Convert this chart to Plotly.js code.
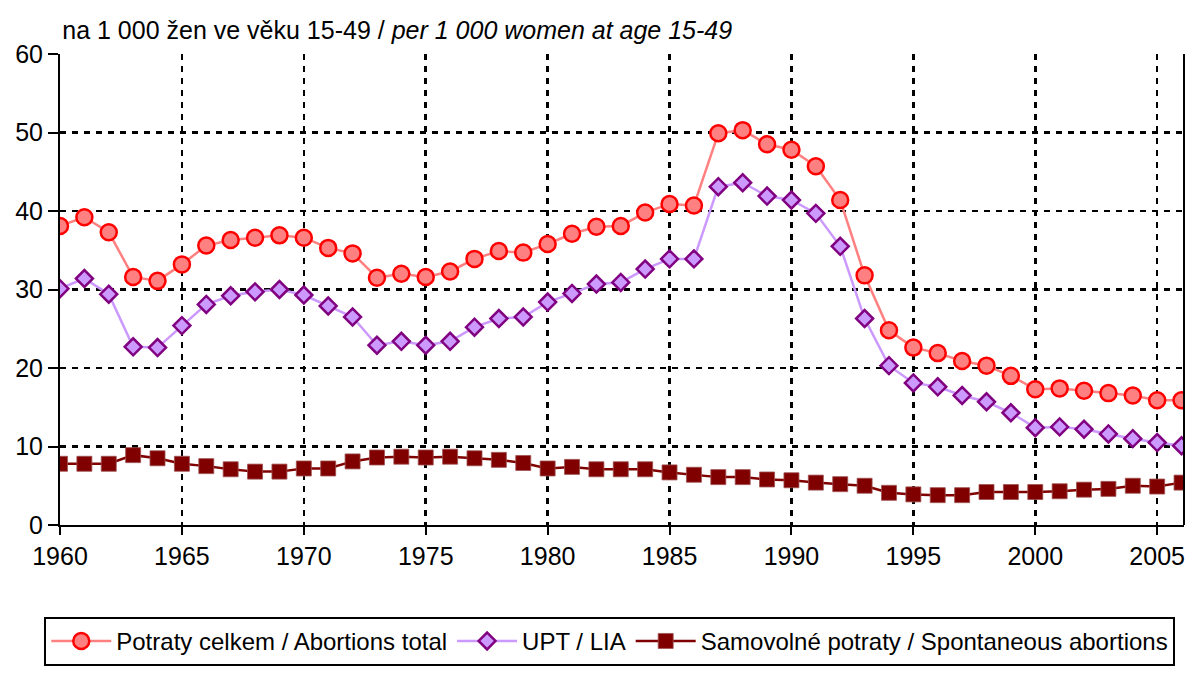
<!DOCTYPE html>
<html>
<head>
<meta charset="utf-8">
<script src="https://cdn.plot.ly/plotly-3.0.1.min.js"></script>
<style>html,body{margin:0;padding:0;background:#fff}#chart{width:1188px;height:677px}</style>
</head>
<body>
<div id="chart"></div>
<script>
const years = [1960,1961,1962,1963,1964,1965,1966,1967,1968,1969,1970,1971,1972,1973,1974,1975,1976,1977,1978,1979,1980,1981,1982,1983,1984,1985,1986,1987,1988,1989,1990,1991,1992,1993,1994,1995,1996,1997,1998,1999,2000,2001,2002,2003,2004,2005,2006];
const abortionsTotal = [38.1,39.2,37.3,31.6,31.1,33.2,35.6,36.3,36.6,36.9,36.6,35.3,34.6,31.5,32.0,31.6,32.3,33.9,34.9,34.7,35.8,37.1,38.0,38.1,39.8,40.9,40.7,49.9,50.3,48.5,47.8,45.7,41.4,31.8,24.8,22.6,21.9,20.9,20.3,19.0,17.3,17.4,17.1,16.8,16.5,15.9,15.9];
const upt = [30.1,31.4,29.4,22.7,22.6,25.4,28.1,29.2,29.7,30.0,29.3,27.9,26.5,22.9,23.4,22.9,23.4,25.2,26.3,26.5,28.4,29.5,30.7,30.9,32.6,33.9,33.9,43.1,43.6,41.9,41.4,39.7,35.5,26.3,20.3,18.1,17.6,16.5,15.7,14.3,12.4,12.5,12.2,11.6,11.0,10.5,10.1];
const spontaneous = [7.8,7.8,7.8,8.9,8.5,7.8,7.5,7.1,6.8,6.8,7.2,7.2,8.1,8.6,8.7,8.6,8.7,8.5,8.3,7.9,7.2,7.4,7.1,7.1,7.1,6.7,6.4,6.1,6.1,5.8,5.7,5.4,5.2,5.0,4.1,3.9,3.8,3.8,4.2,4.2,4.2,4.3,4.5,4.6,5.0,4.9,5.4];
const seriesNames = ['Potraty celkem / Abortions total','UPT / LIA','Samovolné potraty / Spontaneous abortions'];
const xTicks = [1960,1965,1970,1975,1980,1985,1990,1995,2000,2005];
const yTicks = [0,10,20,30,40,50,60];
const titleText = 'na 1 000 žen ve věku 15-49 / <i>per 1 000 women at age 15-49</i>';

const FONT = '"Liberation Sans Narrow", "Arial Narrow", "Liberation Sans", sans-serif';

const traces = [
  {x: years, y: abortionsTotal, name: seriesNames[0], type: 'scatter', mode: 'lines+markers',
   line: {color: '#FF8080', width: 2.5},
   marker: {symbol: 'circle', size: 16, color: '#FF8080', line: {color: '#FF0000', width: 2.5}}},
  {x: years, y: upt, name: seriesNames[1], type: 'scatter', mode: 'lines+markers',
   line: {color: '#CC99FF', width: 2.5},
   marker: {symbol: 'diamond', size: 13, color: '#CC99FF', line: {color: '#800080', width: 2.5}}},
  {x: years, y: spontaneous, name: seriesNames[2], type: 'scatter', mode: 'lines+markers',
   line: {color: '#800000', width: 2.5},
   marker: {symbol: 'square', size: 15, color: '#800000', line: {color: '#A05050', width: 0.8}}}
];

const layout = {
  width: 1188, height: 677,
  margin: {l: 60, r: 4, t: 54, b: 152},
  paper_bgcolor: '#fff', plot_bgcolor: '#fff',
  font: {family: FONT, size: 24, color: '#000'},
  title: {text: titleText, font: {family: FONT, size: 25, color: '#000'},
          xref: 'paper', x: 0.002, xanchor: 'left', yref: 'container', y: 0.955, yanchor: 'middle'},
  showlegend: true,
  legend: {orientation: 'h', xref: 'paper', yref: 'paper', x: -0.014, xanchor: 'left', y: -0.195, yanchor: 'top',
           bordercolor: '#000', borderwidth: 2, bgcolor: '#fff', itemwidth: 60, tracegroupgap: 0,
           font: {family: FONT, size: 24, color: '#000'}},
  xaxis: {range: [1960, 2006.1], tickmode: 'array', tickvals: xTicks, ticktext: xTicks.map(String),
          showline: true, linecolor: '#000', linewidth: 2, ticks: 'outside', ticklen: 8, tickwidth: 2, tickcolor: '#000',
          showgrid: true, gridcolor: '#000', gridwidth: 2.5, griddash: '6px,6px', zeroline: false,
          tickfont: {family: FONT, size: 25, color: '#000'}},
  yaxis: {range: [0, 60], tickmode: 'array', tickvals: yTicks, ticktext: yTicks.map(String),
          showline: true, linecolor: '#000', linewidth: 2, ticks: 'outside', ticklen: 10, tickwidth: 2, tickcolor: '#000',
          showgrid: true, gridcolor: '#000', gridwidth: 2.5, griddash: '6px,6px', zeroline: false,
          tickfont: {family: FONT, size: 25, color: '#000'}},
  shapes: [{type: 'line', xref: 'paper', yref: 'paper', x0: 1, x1: 1, y0: 0, y1: 1, line: {color: '#000', width: 2}}]
};

Plotly.newPlot('chart', traces, layout, {displayModeBar: false, staticPlot: true});
</script>
</body>
</html>
